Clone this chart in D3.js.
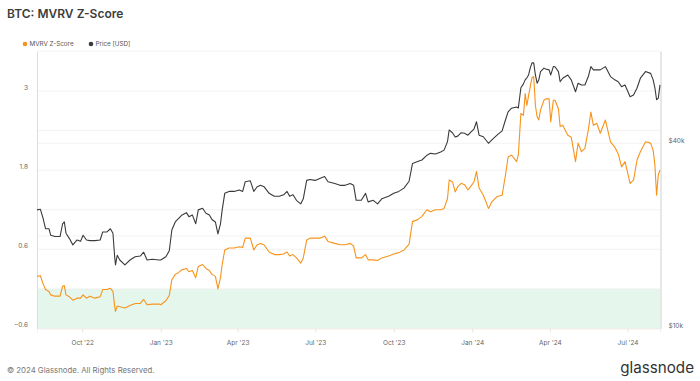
<!DOCTYPE html>
<html><head><meta charset="utf-8">
<script src="https://cdn.jsdelivr.net/npm/d3@7"></script>
<style>
html,body{margin:0;padding:0;background:#fff;}
svg{display:block;font-family:Inter,"Noto Sans",sans-serif;}
</style></head>
<body><svg id="chart" width="700" height="381"></svg>
<script>
// ---- data ----
const dates = ["2022-08-09","2022-08-13","2022-08-16","2022-08-19","2022-08-23","2022-08-25","2022-08-30","2022-09-05","2022-09-08","2022-09-10","2022-09-12","2022-09-16","2022-09-20","2022-09-25","2022-09-29","2022-10-02","2022-10-06","2022-10-10","2022-10-16","2022-10-22","2022-10-25","2022-10-30","2022-11-03","2022-11-06","2022-11-08","2022-11-09","2022-11-11","2022-11-14","2022-11-20","2022-11-26","2022-12-02","2022-12-08","2022-12-12","2022-12-16","2022-12-22","2022-12-30","2023-01-01","2023-01-07","2023-01-11","2023-01-14","2023-01-18","2023-01-22","2023-01-26","2023-01-31","2023-02-03","2023-02-07","2023-02-11","2023-02-14","2023-02-19","2023-02-23","2023-02-27","2023-03-02","2023-03-06","2023-03-09","2023-03-12","2023-03-14","2023-03-17","2023-03-22","2023-03-28","2023-04-03","2023-04-07","2023-04-10","2023-04-16","2023-04-20","2023-04-24","2023-04-28","2023-05-02","2023-05-08","2023-05-14","2023-05-20","2023-05-25","2023-05-29","2023-06-01","2023-06-05","2023-06-09","2023-06-14","2023-06-17","2023-06-21","2023-06-25","2023-07-01","2023-07-07","2023-07-12","2023-07-16","2023-07-24","2023-07-30","2023-08-05","2023-08-11","2023-08-15","2023-08-18","2023-08-24","2023-08-29","2023-09-01","2023-09-07","2023-09-12","2023-09-17","2023-09-25","2023-10-01","2023-10-07","2023-10-13","2023-10-19","2023-10-23","2023-10-29","2023-11-03","2023-11-09","2023-11-13","2023-11-19","2023-11-25","2023-11-29","2023-12-03","2023-12-05","2023-12-09","2023-12-12","2023-12-15","2023-12-19","2023-12-23","2023-12-27","2023-12-30","2024-01-03","2024-01-06","2024-01-09","2024-01-14","2024-01-20","2024-01-24","2024-01-30","2024-02-05","2024-02-09","2024-02-12","2024-02-16","2024-02-22","2024-02-24","2024-02-27","2024-03-01","2024-03-03","2024-03-05","2024-03-07","2024-03-09","2024-03-11","2024-03-13","2024-03-15","2024-03-17","2024-03-19","2024-03-21","2024-03-25","2024-03-27","2024-03-31","2024-04-02","2024-04-05","2024-04-07","2024-04-11","2024-04-13","2024-04-16","2024-04-22","2024-04-26","2024-05-01","2024-05-04","2024-05-08","2024-05-12","2024-05-16","2024-05-19","2024-05-22","2024-05-26","2024-05-30","2024-06-05","2024-06-11","2024-06-16","2024-06-20","2024-06-24","2024-06-28","2024-07-04","2024-07-08","2024-07-12","2024-07-16","2024-07-22","2024-07-28","2024-07-31","2024-08-02","2024-08-04","2024-08-06","2024-08-08"];

const mvrvZ = [0.19,0.20,0.08,-0.01,-0.04,-0.09,-0.11,-0.11,0.04,0.05,-0.09,-0.12,-0.17,-0.14,-0.14,-0.09,-0.14,-0.11,-0.14,-0.12,-0.01,-0.01,0.01,-0.04,-0.26,-0.34,-0.26,-0.27,-0.29,-0.25,-0.22,-0.22,-0.16,-0.24,-0.23,-0.23,-0.24,-0.18,-0.10,0.14,0.22,0.25,0.29,0.31,0.26,0.28,0.17,0.34,0.37,0.31,0.28,0.22,0.19,0.00,0.17,0.37,0.59,0.62,0.62,0.64,0.63,0.77,0.77,0.59,0.67,0.69,0.67,0.56,0.52,0.52,0.53,0.56,0.50,0.52,0.47,0.39,0.47,0.74,0.77,0.77,0.77,0.80,0.72,0.69,0.67,0.67,0.69,0.65,0.47,0.47,0.52,0.44,0.44,0.43,0.47,0.50,0.53,0.55,0.59,0.68,1.02,1.05,1.10,1.20,1.17,1.20,1.20,1.22,1.37,1.65,1.62,1.47,1.55,1.60,1.58,1.50,1.55,1.62,1.78,1.53,1.42,1.22,1.32,1.40,1.42,1.73,2.00,2.03,1.93,2.03,2.66,2.63,2.96,2.78,2.93,3.07,3.20,3.22,2.78,2.61,2.56,2.71,2.86,2.88,2.88,2.53,2.86,2.86,2.73,2.46,2.48,2.33,2.30,1.93,2.21,2.08,2.13,2.41,2.68,2.48,2.51,2.36,2.56,2.23,2.15,2.05,1.85,1.93,1.60,1.65,1.95,2.08,2.23,2.21,2.10,1.88,1.42,1.73,1.80];

const priceUSD = [24300,24400,22900,21100,21100,20100,19900,19900,21900,22200,20400,19600,18700,19400,19200,20100,19400,19300,19300,19400,20600,20600,21100,20400,17100,16100,17300,16700,16100,16700,17100,17200,17700,16700,16800,16700,16700,17100,17900,20900,22200,22800,23400,23800,23100,23400,21900,24300,24600,23700,23400,22600,22200,20300,21900,24300,27500,27900,27900,28200,27900,30000,30200,27900,28900,29200,28900,27500,26900,26900,27200,27900,26900,27200,26100,25400,26400,30300,30500,30300,30800,31200,30000,29600,29200,29200,29600,29200,26100,26100,27500,25800,26100,25400,26400,26900,27500,27900,28600,30100,34400,34900,35300,36600,37100,36900,37500,38000,40500,44200,43200,41900,42200,43300,43100,42500,43400,44500,47000,42500,42000,40000,41000,42500,43900,47700,50600,52000,52500,52100,60600,62400,64300,65300,66700,70300,73000,73000,66700,62700,64300,68400,70200,69700,69300,66700,71000,70900,68400,63400,65100,66700,64300,58800,62700,61900,61900,65900,71000,69300,69300,69300,71000,65900,64300,63400,61100,61900,56700,57400,60400,65100,68400,67500,64300,60600,55400,56100,61900];

const zTicks = [-0.6, 0.6, 1.8, 3];
const zGrid = [-0.6, 0, 0.6, 1.2, 1.8, 2.4, 3];
const priceTicks = [10000, 40000];
const priceGrid = [10000, 20000, 40000];
const zDomain = [-0.6, 3.606];
const priceDomain = [10000, 79800];
const xDomain = ["2022-08-09", "2024-08-08"];
const greenBand = [-0.6, 0];
const titleText = "BTC: MVRV Z-Score";
const seriesNames = ["MVRV Z-Score", "Price [USD]"];
const footerText = "\u00A9 2024 Glassnode. All Rights Reserved.";
const brandText = "glassnode";

// ---- layout ----
const L = 37, R = 660, T = 51, B = 328.5;
const ORANGE = "#f7931a", DARK = "#3a3a3a";
const parse = d3.utcParse("%Y-%m-%d");
const rows = dates.map((d, i) => ({date: parse(d), z: mvrvZ[i], p: priceUSD[i]}));

const svg = d3.select("#chart");
const x = d3.scaleUtc().domain(xDomain.map(parse)).range([L, R]);
const yZ = d3.scaleLinear().domain(zDomain).range([B, T]);
const yP = d3.scaleLog().domain(priceDomain).range([B, T]);

// title
svg.append("text").attr("x", 7).attr("y", 17.5).attr("font-size", 12).attr("font-weight", 600)
  .attr("fill", "#3d3d3d").text(titleText);

// legend
const leg = [{name: seriesNames[0], c: ORANGE, x: 25}, {name: seriesNames[1], c: DARK, x: 91}];
leg.forEach(l => {
  svg.append("circle").attr("cx", l.x).attr("cy", 44).attr("r", 2.3).attr("fill", l.c);
  svg.append("text").attr("x", l.x + 4.5).attr("y", 46.2).attr("font-size", 6.3).attr("fill", "#555").text(l.name);
});

// green band
svg.append("rect").attr("x", L).attr("width", R - L)
  .attr("y", yZ(greenBand[1])).attr("height", yZ(greenBand[0]) - yZ(greenBand[1]))
  .attr("fill", "#e5f6ed");

// grid lines
svg.append("g").selectAll("line").data(zGrid).join("line")
  .attr("x1", L).attr("x2", R).attr("y1", d => yZ(d)).attr("y2", d => yZ(d))
  .attr("stroke", "#efefef").attr("stroke-width", 0.8);
svg.append("g").selectAll("line").data(priceGrid).join("line")
  .attr("x1", L).attr("x2", R).attr("y1", d => yP(d)).attr("y2", d => yP(d))
  .attr("stroke", "#efefef").attr("stroke-width", 0.8);
svg.append("line").attr("x1", L).attr("x2", R).attr("y1", T).attr("y2", T).attr("stroke", "#f0f0f0").attr("stroke-width", 0.8);

// left axis
const gl = svg.append("g").attr("transform", `translate(${L},0)`)
  .call(d3.axisLeft(yZ).tickValues(zTicks).tickSize(0).tickPadding(9).tickFormat(d => d3.format("")(d)));
gl.select(".domain").attr("stroke", "#fcd7ad").attr("stroke-width", 1);
gl.selectAll("text").attr("font-size", 6.5).attr("fill", "#666").attr("font-family", "Inter").attr("dy", "-0.25em");

// right axis
const gr = svg.append("g").attr("transform", `translate(${R + 0.5},0)`)
  .call(d3.axisRight(yP).tickValues(priceTicks).tickSize(0).tickPadding(8).tickFormat(d => "$" + (d / 1000) + "k"));
gr.select(".domain").attr("stroke", "#cfcfcf").attr("stroke-width", 1);
gr.selectAll("text").attr("font-size", 6.5).attr("fill", "#666").attr("font-family", "Inter").attr("dy", "-0.15em");

// bottom axis
const gx = svg.append("g").attr("transform", `translate(0,${B})`)
  .call(d3.axisBottom(x).ticks(d3.utcMonth.every(3)).tickSize(4).tickPadding(8)
    .tickFormat(d3.utcFormat("%b '%y")));
gx.select(".domain").attr("stroke", "#f3ece4").attr("stroke-width", 0.8);
gx.selectAll(".tick line").attr("stroke", "#e6e6e6");
gx.selectAll("text").attr("font-size", 6.5).attr("fill", "#666").attr("font-family", "Inter");

// lines
const lineP = d3.line().x(d => x(d.date)).y(d => yP(d.p));
const lineZ = d3.line().x(d => x(d.date)).y(d => yZ(d.z));
svg.append("path").datum(rows).attr("d", lineP).attr("fill", "none")
  .attr("stroke", DARK).attr("stroke-width", 1.1).attr("stroke-linejoin", "round");
svg.append("path").datum(rows).attr("d", lineZ).attr("fill", "none")
  .attr("stroke", ORANGE).attr("stroke-width", 1.1).attr("stroke-linejoin", "round");

// footer
svg.append("text").attr("x", 7).attr("y", 373).attr("font-size", 7.8).attr("fill", "#777").text(footerText);
svg.append("text").attr("x", 694).attr("y", 372.5).attr("text-anchor", "end").attr("font-size", 15.2)
  .attr("fill", "#333").attr("font-weight", 400).text(brandText);
</script></body></html>
